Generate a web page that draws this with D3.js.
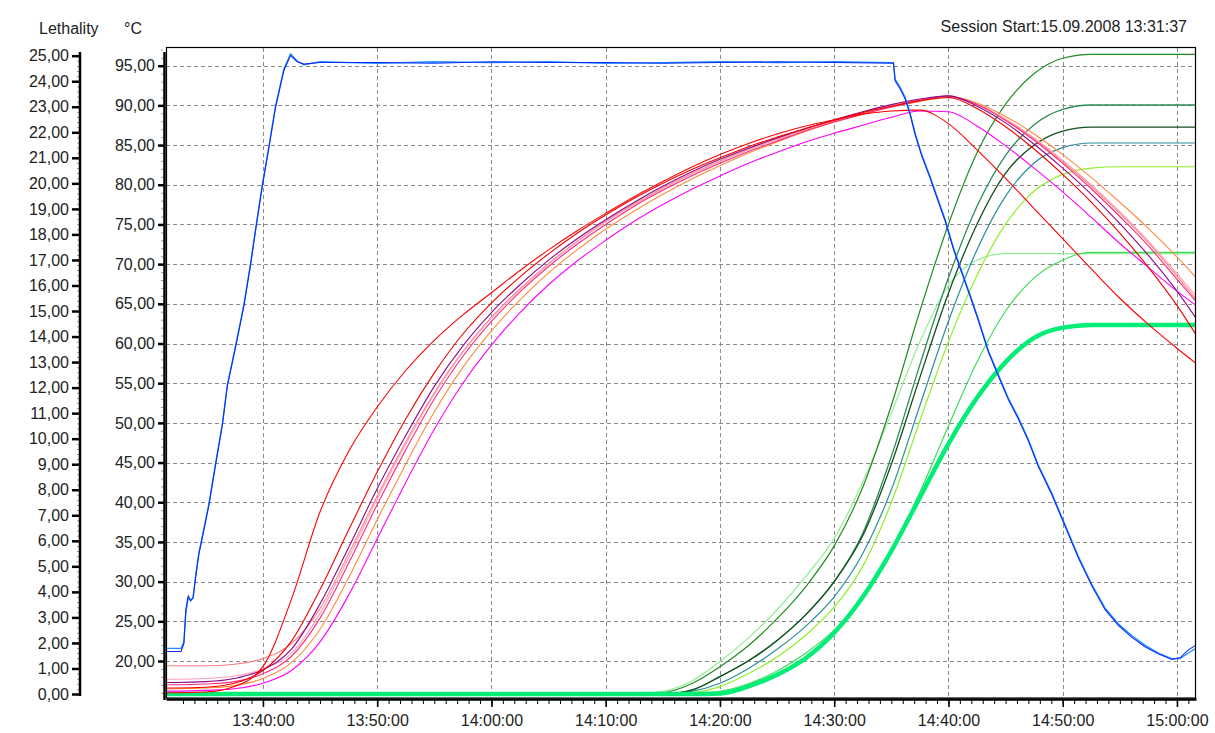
<!DOCTYPE html>
<html><head><meta charset="utf-8">
<script src="https://cdn.jsdelivr.net/npm/d3@7"></script>
<style>
html,body{margin:0;padding:0;background:#fff;}
svg{display:block;font-family:Arial,"Liberation Sans",sans-serif;}
</style></head><body>
<svg id="chart" width="1215" height="733"></svg>
<script>
// ---------------- data ----------------
const sessionStart = "13:31:37";
const timeTicks = ["13:40:00","13:50:00","14:00:00","14:10:00","14:20:00","14:30:00","14:40:00","14:50:00","15:00:00"];
const tempTicks = [20,25,30,35,40,45,50,55,60,65,70,75,80,85,90,95];
const lethTicks = [0,1,2,3,4,5,6,7,8,9,10,11,12,13,14,15,16,17,18,19,20,21,22,23,24,25];

// common time grid for product temperatures and lethality curves
const timeGrid = ["13:31:37","13:32:30","13:35:00","13:37:30","13:40:00","13:42:30","13:45:00","13:47:30","13:50:00","13:52:30",
  "13:55:00","13:57:30","14:00:00","14:02:30","14:05:00","14:07:30","14:10:00","14:12:30","14:15:00","14:17:30",
  "14:20:00","14:22:30","14:25:00","14:27:30","14:30:00","14:32:30","14:35:00","14:37:30","14:40:00","14:42:30",
  "14:45:00","14:47:30","14:50:00","14:52:30","14:55:00","14:57:30","15:00:00","15:01:40"];

// product temperatures (°C)
const tRed1    = [16.0,16.0,16.1,16.8,19.3,27.8,38.8,46.4,52.0,56.6,60.4,63.6,66.4,69.2,71.8,74.2,76.4,78.5,80.4,82.2,83.8,85.2,86.4,87.4,88.2,88.9,89.3,89.4,87.7,84.4,80.8,77.0,73.2,69.4,65.7,62.4,59.4,57.5];
const tRed2    = [16.6,16.6,16.7,17.2,18.8,22.5,29.0,36.5,43.8,50.5,56.3,61.2,65.1,68.4,71.3,73.9,76.2,78.3,80.2,81.9,83.4,84.8,86.0,87.1,88.1,89.1,89.9,90.6,91.0,89.6,87.3,84.5,81.3,77.8,73.9,69.6,64.8,61.1];
const tPurple  = [17.3,17.3,17.4,17.8,18.9,21.5,27.2,34.3,41.7,48.4,54.6,59.7,63.9,67.4,70.5,73.2,75.6,77.8,79.8,81.6,83.2,84.6,85.9,87.1,88.2,89.2,90.1,90.8,91.2,89.9,87.8,85.1,82.1,78.8,75.1,71.1,66.6,63.2];
const tPink    = [17.7,17.7,17.8,18.1,19.0,21.0,26.0,33.0,40.4,47.3,53.6,58.9,63.2,66.8,70.0,72.8,75.3,77.5,79.5,81.3,82.9,84.4,85.7,86.9,88.0,89.0,89.9,90.6,91.0,90.1,88.3,85.9,83.1,80.0,76.6,72.9,68.8,66.0];
const tRose    = [17.0,17.0,17.1,17.4,18.4,20.6,25.4,32.3,39.7,46.6,53.0,58.4,62.8,66.5,69.7,72.5,75.0,77.3,79.3,81.1,82.7,84.2,85.5,86.8,87.9,88.9,89.8,90.6,91.2,90.1,88.1,85.6,82.7,79.5,76.0,72.3,68.1,65.3];
const tSalmon  = [19.4,19.4,19.4,19.6,20.3,22.2,26.6,33.5,40.8,47.6,53.8,59.0,63.3,66.9,70.1,72.9,75.4,77.6,79.6,81.4,83.0,84.5,85.8,87.0,88.1,89.1,90.0,90.7,91.1,90.1,88.2,85.8,82.9,79.8,76.4,72.7,68.5,65.6];
const tOrange  = [16.5,16.5,16.6,16.9,17.8,19.8,24.0,30.5,37.8,44.8,51.4,57.0,61.6,65.5,68.9,71.8,74.4,76.7,78.8,80.7,82.4,84.0,85.4,86.7,87.9,88.9,89.8,90.5,91.1,90.3,88.6,86.4,83.8,80.9,77.8,74.5,70.9,68.3];
const tMagenta = [16.2,16.2,16.3,16.5,17.2,18.8,22.4,28.3,35.4,42.5,49.2,55.0,59.8,63.9,67.4,70.4,73.0,75.4,77.5,79.4,81.1,82.7,84.1,85.4,86.5,87.5,88.5,89.3,89.2,87.4,84.9,82.1,79.1,75.9,72.6,69.6,66.6,64.8];

// lethality curves
const lPale   = [0,0,0,0,0,0,0,0,0,0,0,0,0,0,0,0,0,0,0.1,0.5,1.27,2.2,3.3,4.6,6.1,8.3,11.0,13.8,16.0,17.0,17.25,17.25,17.25,17.25,17.25,17.25,17.25,17.25];
const lForest = [0,0,0,0,0,0,0,0,0,0,0,0,0,0,0,0,0,0,0.05,0.4,1.07,1.9,2.95,4.2,5.8,8.1,11.3,15.0,18.4,21.2,23.1,24.3,24.9,25.05,25.05,25.05,25.05,25.05];
const lSea    = [0,0,0,0,0,0,0,0,0,0,0,0,0,0,0,0,0,0,0,0.15,0.68,1.3,2.1,3.1,4.4,6.3,9.3,12.9,16.3,19.1,21.1,22.3,22.9,23.07,23.07,23.07,23.07,23.07];
const lDark   = [0,0,0,0,0,0,0,0,0,0,0,0,0,0,0,0,0,0,0,0.15,0.68,1.3,2.1,3.1,4.4,6.2,9.0,12.4,15.7,18.4,20.4,21.5,22.05,22.2,22.2,22.2,22.2,22.2];
const lTeal   = [0,0,0,0,0,0,0,0,0,0,0,0,0,0,0,0,0,0,0,0.1,0.42,1.0,1.75,2.65,3.8,5.5,8.0,11.3,14.6,17.4,19.5,20.8,21.4,21.58,21.58,21.58,21.58,21.58];
const lLime   = [0,0,0,0,0,0,0,0,0,0,0,0,0,0,0,0,0,0,0,0.05,0.29,0.8,1.45,2.3,3.4,5.0,7.5,10.7,13.8,16.4,18.4,19.7,20.35,20.6,20.65,20.65,20.65,20.65];
const lGreen  = [0,0,0,0,0,0,0,0,0,0,0,0,0,0,0,0,0,0,0,0,0.1,0.4,0.9,1.6,2.5,3.8,5.6,7.9,10.5,13.0,15.0,16.3,17.0,17.3,17.3,17.3,17.3,17.3];
const lSpring = [0,0,0,0,0,0,0,0,0,0,0,0,0,0,0,0,0,0,0,0,0.02,0.3,0.75,1.4,2.4,3.8,5.6,7.7,9.8,11.6,13.0,13.95,14.35,14.45,14.45,14.45,14.45,14.45];

// chamber temperature (two sensors)
const blueTimes = ["13:31:37","13:32:50","13:33:05","13:33:15","13:33:28","13:33:40","13:33:53","13:34:07","13:34:24","13:34:50",
  "13:35:17","13:35:52","13:36:27","13:36:53","13:37:37","13:38:20","13:38:55","13:39:25","13:39:56","13:40:31",
  "13:41:06","13:41:50","13:42:25","13:43:00","13:43:35","13:45:00","13:50:00","13:55:00","14:00:00","14:05:00",
  "14:10:00","14:15:00","14:20:00","14:25:00","14:30:00","14:35:11","14:35:20","14:35:46","14:36:13","14:36:39",
  "14:37:05","14:37:40","14:38:24","14:38:59","14:39:43","14:40:26","14:41:10","14:41:54","14:42:37","14:43:30",
  "14:44:22","14:45:15","14:46:07","14:47:00","14:47:52","14:49:02","14:50:12","14:51:22","14:52:32","14:53:42",
  "14:54:52","14:56:02","14:57:12","14:58:22","14:59:32","15:00:16","15:01:00","15:01:40"];
const blueLight = [21.6,21.6,22.4,26.0,28.0,27.6,28.0,30.8,33.7,36.7,
  39.9,45.0,49.9,54.8,59.8,64.9,70.1,75.0,79.9,84.8,
  89.9,94.6,96.5,95.6,95.1,95.5,95.3,95.5,95.4,95.5,
  95.3,95.4,95.5,95.4,95.5,95.4,93.3,92.3,91.0,89.0,
  86.5,83.8,81.0,78.6,75.6,72.1,69.1,66.1,63.1,59.1,
  56.1,53.1,50.7,47.9,44.7,41.2,37.2,33.2,29.7,26.7,
  24.7,23.2,22.0,21.0,20.3,20.3,21.0,21.6];
const blueDark = [21.2,21.2,22.2,26.5,28.2,27.6,27.9,30.6,33.5,36.5,
  39.7,44.8,49.7,54.6,59.6,64.7,69.9,74.8,79.7,84.6,
  89.7,94.4,96.3,95.5,95.2,95.4,95.4,95.3,95.5,95.4,
  95.4,95.3,95.4,95.5,95.4,95.3,93.1,92.1,90.8,88.8,
  86.3,83.6,80.8,78.4,75.4,71.9,68.9,65.9,62.9,58.9,
  55.9,52.9,50.5,47.7,44.5,41.0,37.0,33.0,29.5,26.5,
  24.5,23.0,21.8,20.9,20.2,20.4,21.4,22.0];

// ---------------- chart ----------------
const parseT = d3.timeParse("%H:%M:%S");
const svg = d3.select("#chart");
const L = 166, R = 1196, T = 48, B = 698;

const x = d3.scaleTime().domain([parseT("13:31:31"), parseT("15:01:40")]).range([L, R]);
const yT = d3.scaleLinear().domain([20, 95]).range([661, 65.7]);
const yL = d3.scaleLinear().domain([0, 25]).range([694, 55.7]);
const fmt = d => d.toFixed(2).replace(".", ",");

const grid = timeGrid.map(parseT);

svg.append("defs").append("clipPath").attr("id","clip")
  .append("rect").attr("x",L).attr("y",T).attr("width",R-L).attr("height",B-T);

// gridlines
const gGrid = svg.append("g").attr("stroke","#8a8a8a").attr("stroke-width",1).attr("stroke-dasharray","4,3");
gGrid.selectAll("line.h").data(tempTicks).join("line")
  .attr("x1",L).attr("x2",R).attr("y1",d=>Math.round(yT(d))+0.5).attr("y2",d=>Math.round(yT(d))+0.5);
gGrid.selectAll("line.v").data(timeTicks.map(parseT)).join("line")
  .attr("y1",T).attr("y2",B).attr("x1",d=>Math.round(x(d))+0.5).attr("x2",d=>Math.round(x(d))+0.5);

// series
const plot = svg.append("g").attr("clip-path","url(#clip)");
const lineL = vals => d3.line().x((d,i)=>x(grid[i])).y(d=>yL(d)).curve(d3.curveMonotoneX)(vals);
const lineTg = vals => d3.line().x((d,i)=>x(grid[i])).y(d=>yT(d)).curve(d3.curveMonotoneX)(vals);

const lethSeries = [
  {v:lPale,   c:"#90EE90", w:1.2},
  {v:lGreen,  c:"#3EDC5A", w:1.2},
  {v:lLime,   c:"#8CF02A", w:1.2},
  {v:lTeal,   c:"#2A8F98", w:1.2},
  {v:lSea,    c:"#2E8B57", w:1.3},
  {v:lDark,   c:"#124F1E", w:1.3},
  {v:lForest, c:"#228B22", w:1.2},
  {v:lSpring, c:"#00EE76", w:4.5}
];
lethSeries.forEach(s => plot.append("path").attr("d", lineL(s.v)).attr("fill","none")
  .attr("stroke", s.c).attr("stroke-width", s.w));

const prodSeries = [
  {v:tSalmon,  c:"#FF8080"},
  {v:tPink,    c:"#FF9FB8"},
  {v:tOrange,  c:"#FF8A3D"},
  {v:tRose,    c:"#FF2A7A"},
  {v:tMagenta, c:"#FF00FF"},
  {v:tPurple,  c:"#8B0A8B"},
  {v:tRed2,    c:"#F00000"},
  {v:tRed1,    c:"#FF0000"}
];
prodSeries.forEach(s => plot.append("path").attr("d", lineTg(s.v)).attr("fill","none")
  .attr("stroke", s.c).attr("stroke-width", 1.1));

const bt = blueTimes.map(parseT);
const lineB = vals => d3.line().x((d,i)=>x(bt[i])).y(d=>yT(d))(vals);
plot.append("path").attr("d", lineB(blueLight)).attr("fill","none").attr("stroke","#1E8FFF").attr("stroke-width",1.3);
plot.append("path").attr("d", lineB(blueDark)).attr("fill","none").attr("stroke","#0A2CF5").attr("stroke-width",1.1);

// frame
svg.append("rect").attr("x",L+0.5).attr("y",T-0.5).attr("width",R-L-1).attr("height",B-T+0.5)
  .attr("fill","none").attr("stroke","#000").attr("stroke-width",1.2);

// x axis
const minorTimes = d3.timeSecond.every(150).range(parseT("13:32:30"), parseT("15:01:40"));
const xMinor = svg.append("g").attr("transform",`translate(0,${B+1})`)
  .call(d3.axisBottom(x).tickValues(minorTimes).tickSize(5).tickFormat(""));
xMinor.select(".domain").remove();
xMinor.selectAll(".tick line").attr("stroke","#000").attr("stroke-width",1);
const xAxis = svg.append("g").attr("transform",`translate(0,${B+1})`)
  .call(d3.axisBottom(x).tickValues(timeTicks.map(parseT)).tickFormat(d3.timeFormat("%H:%M:%S")).tickSize(8).tickPadding(8).tickSizeOuter(0));
xAxis.select(".domain").attr("stroke","#000").attr("stroke-width",2.5);
xAxis.selectAll(".tick line").attr("stroke","#000").attr("stroke-width",1.6);
xAxis.selectAll("text").attr("font-size",16).attr("fill","#222").attr("font-family","Arial, 'Liberation Sans', sans-serif");

// temperature axis
const tMinor = d3.range(16, 98).filter(v => v % 5 !== 0);
const yTm = svg.append("g").attr("transform",`translate(163,0)`)
  .call(d3.axisLeft(yT).tickValues(tMinor).tickSize(2).tickFormat(""));
yTm.select(".domain").remove();
yTm.selectAll(".tick line").attr("stroke","#999");
const yTaxis = svg.append("g").attr("transform",`translate(165,0)`)
  .call(d3.axisLeft(yT).tickValues(tempTicks).tickFormat(fmt).tickSize(7).tickPadding(3));
yTaxis.select(".domain").remove();
yTaxis.selectAll(".tick line").attr("stroke","#000").attr("stroke-width",2.5);
yTaxis.selectAll("text").attr("font-size",16).attr("fill","#222").attr("font-family","Arial, 'Liberation Sans', sans-serif");
svg.append("line").attr("x1",164.5).attr("x2",164.5).attr("y1",52).attr("y2",B+2).attr("stroke","#000").attr("stroke-width",2.5);

// lethality axis
const lMinor = d3.range(0, 126).map(i => i/5).filter(v => Math.abs(v - Math.round(v)) > 1e-6);
const yLm = svg.append("g").attr("transform",`translate(79,0)`)
  .call(d3.axisLeft(yL).tickValues(lMinor).tickSize(2).tickFormat(""));
yLm.select(".domain").remove();
yLm.selectAll(".tick line").attr("stroke","#999");
const yLaxis = svg.append("g").attr("transform",`translate(80,0)`)
  .call(d3.axisLeft(yL).tickValues(lethTicks).tickFormat(fmt).tickSize(8).tickPadding(3));
yLaxis.select(".domain").remove();
yLaxis.selectAll(".tick line").attr("stroke","#000").attr("stroke-width",2.5);
yLaxis.selectAll("text").attr("font-size",16).attr("fill","#222").attr("font-family","Arial, 'Liberation Sans', sans-serif");
svg.append("line").attr("x1",80).attr("x2",80).attr("y1",52).attr("y2",696).attr("stroke","#000").attr("stroke-width",2.5);

// header texts
const hdr = svg.append("g").attr("font-size",16).attr("fill","#222");
hdr.append("text").attr("x",39).attr("y",34).text("Lethality");
hdr.append("text").attr("x",124).attr("y",34).text("°C");
hdr.append("text").attr("x",1187).attr("y",32).attr("text-anchor","end").text("Session Start:" + "15.09.2008 " + sessionStart);
</script>
</body></html>
